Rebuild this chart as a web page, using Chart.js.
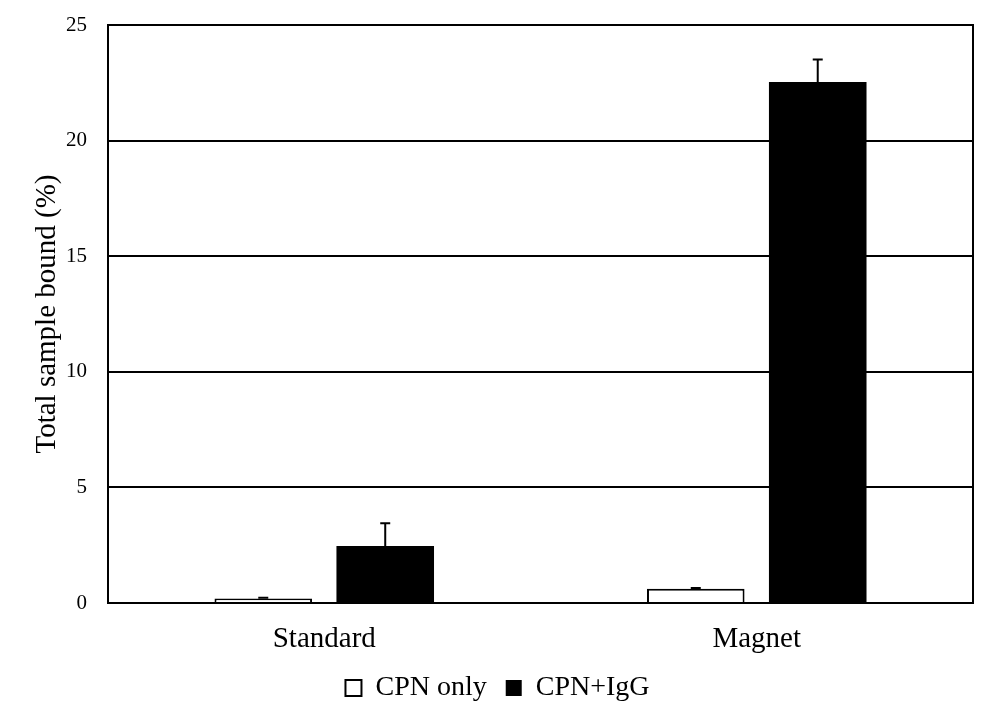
<!DOCTYPE html>
<html>
<head>
<meta charset="utf-8">
<script src="https://cdn.jsdelivr.net/npm/chart.js@4.4.0/dist/chart.umd.min.js"></script>
<style>
  html, body { margin: 0; padding: 0; background: #fff; }
  #wrap { width: 995px; height: 722px; }
</style>
</head>
<body>
<div id="wrap"><canvas id="boundChart" width="995" height="722"></canvas></div>
<script>
const categories = ["Standard", "Magnet"];
const cpnOnly = [0.2, 0.62];
const cpnOnlyErr = [0.03, 0.03];
const cpnIgG = [2.47, 22.53];
const cpnIgGErr = [0.98, 0.98];
const yTicks = [0, 5, 10, 15, 20, 25];

const serif = "'Liberation Serif', 'DejaVu Serif', serif";

// upper error whiskers with a short cap
const errorBars = {
  id: "errorBars",
  afterDatasetsDraw(chart) {
    const ctx = chart.ctx;
    const y = chart.scales.y;
    ctx.save();
    ctx.strokeStyle = "#000";
    ctx.lineWidth = 2;
    chart.data.datasets.forEach((ds, i) => {
      const meta = chart.getDatasetMeta(i);
      meta.data.forEach((bar, j) => {
        const top = y.getPixelForValue(ds.data[j] + ds.errors[j]);
        const base = y.getPixelForValue(ds.data[j]);
        ctx.beginPath();
        ctx.moveTo(bar.x, base);
        ctx.lineTo(bar.x, top);
        ctx.moveTo(bar.x - 5, top);
        ctx.lineTo(bar.x + 5, top);
        ctx.stroke();
      });
    });
    ctx.restore();
  },
};

// box round the plot area
const frame = {
  id: "frame",
  afterDraw(chart) {
    const a = chart.chartArea;
    const ctx = chart.ctx;
    ctx.save();
    ctx.strokeStyle = "#000";
    ctx.lineWidth = 2;
    ctx.strokeRect(a.left, a.top, a.right - a.left, a.bottom - a.top);
    ctx.restore();
  },
};

const boundChart = new Chart(document.getElementById("boundChart"), {
  type: "bar",
  data: {
    labels: categories,
    datasets: [
      {
        label: "CPN only",
        data: cpnOnly,
        errors: cpnOnlyErr,
        backgroundColor: "#fff",
        borderColor: "#000",
        borderWidth: 2,
        borderSkipped: "bottom",
      },
      {
        label: "CPN+IgG",
        data: cpnIgG,
        errors: cpnIgGErr,
        backgroundColor: "#000",
        borderColor: "#000",
        borderWidth: 0,
      },
    ],
  },
  options: {
    responsive: false,
    maintainAspectRatio: false,
    animation: false,
    categoryPercentage: 0.564,
    barPercentage: 0.8,
    layout: { padding: { left: 0, right: 0, top: 25, bottom: 10 } },
    scales: {
      x: {
        grid: { display: false },
        border: { display: true, color: "#000", width: 2 },
        ticks: { color: "#000", padding: 11, font: { family: serif, size: 29 } },
        afterFit(scale) { scale.height = 52; },
      },
      y: {
        min: 0,
        max: 25,
        afterBuildTicks(scale) { scale.ticks = yTicks.map(v => ({ value: v })); },
        grid: { color: "#000", lineWidth: 2, drawTicks: false },
        border: { display: true, color: "#000", width: 2 },
        ticks: { color: "#000", padding: 21, font: { family: serif, size: 21 } },
        title: {
          display: true,
          text: "Total sample bound (%)",
          color: "#000",
          font: { family: serif, size: 29 },
          padding: { top: 30, bottom: 0 },
        },
        afterFit(scale) {
          scale.width = 108;
          scale.paddingTop = 0;
          scale.paddingBottom = 0;
        },
      },
      // empty right-hand gutter so the legend centres on the page
      yRight: {
        position: "right",
        grid: { display: false },
        border: { display: false },
        ticks: { display: false },
        afterFit(scale) {
          scale.width = 22;
          scale.paddingTop = 0;
          scale.paddingBottom = 0;
        },
      },
    },
    plugins: {
      legend: {
        display: true,
        position: "bottom",
        labels: {
          color: "#000",
          boxWidth: 16,
          boxHeight: 16,
          padding: 19,
          font: { family: serif, size: 28 },
        },
      },
      tooltip: { enabled: false },
    },
  },
  plugins: [errorBars, frame],
});
</script>
</body>
</html>
